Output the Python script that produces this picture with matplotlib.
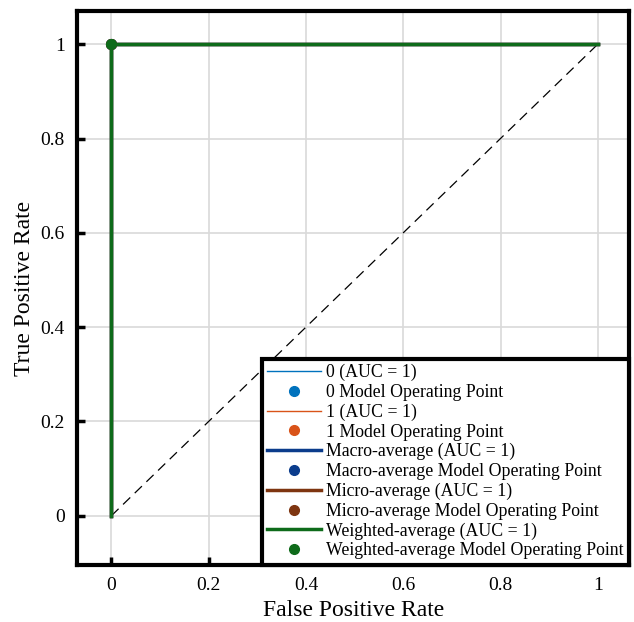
import numpy as np
import matplotlib.pyplot as plt

plt.rcParams['font.family'] = ['Liberation Serif', 'DejaVu Serif']

# ROC curves (all perfect classifiers)
fpr = [0, 0, 1]
tpr = [0, 1, 1]
op_fpr = 0
op_tpr = 1

series_names = ["0", "1", "Macro-average", "Micro-average", "Weighted-average"]
series_colors = ["#0072BD", "#D95319", "#0B3C8C", "#7E3510", "#0E6B1A"]
series_widths = [1.0, 1.0, 2.5, 2.5, 2.5]
auc_values = [1, 1, 1, 1, 1]

fig, ax = plt.subplots(figsize=(6.34, 6.22), dpi=100)
fig.subplots_adjust(left=0.122, right=0.992, top=0.982, bottom=0.092)

ax.plot([0, 1], [0, 1], color="black", linestyle=(0, (8, 5)), linewidth=0.9, zorder=2)

for name, c, w, auc in zip(series_names, series_colors, series_widths, auc_values):
    ax.plot(fpr, tpr, color=c, linewidth=w, label=f"{name} (AUC = {auc})", zorder=3)
    ax.plot(op_fpr, op_tpr, "o", color=c, markersize=7, linestyle="none",
            label=f"{name} Model Operating Point", zorder=4)

ax.set_xlim(-0.07, 1.064)
ax.set_ylim(-0.104, 1.07)
ticks = [0, 0.2, 0.4, 0.6, 0.8, 1]
ax.set_xticks(ticks)
ax.set_yticks(ticks)
ax.set_xticklabels(["0", "0.2", "0.4", "0.6", "0.8", "1"])
ax.set_yticklabels(["0", "0.2", "0.4", "0.6", "0.8", "1"])
ax.tick_params(direction="in", length=6, width=2.5, labelsize=14, pad=9)
ax.grid(True, color="#d9d9d9", linewidth=1.2)
ax.set_axisbelow(True)
for s in ax.spines.values():
    s.set_linewidth(3)

ax.set_xlabel("False Positive Rate", fontsize=17)
ax.set_ylabel("True Positive Rate", fontsize=17)

leg = ax.legend(loc="lower right", fontsize=12.8, labelspacing=0.15,
                handlelength=3.0, handletextpad=0.3, borderaxespad=0.0,
                fancybox=False, framealpha=1, borderpad=0.3)
leg.get_frame().set_edgecolor("black")
leg.get_frame().set_linewidth(3)

plt.savefig("out.png", dpi=100)
